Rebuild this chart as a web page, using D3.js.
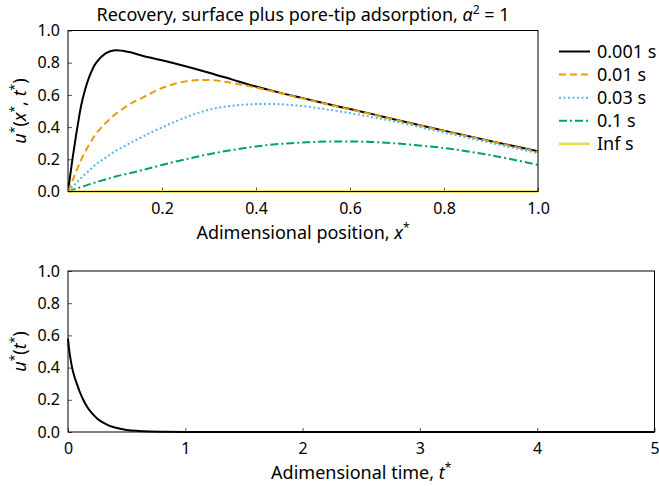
<!DOCTYPE html>
<html>
<head>
<meta charset="utf-8">
<script src="https://cdn.jsdelivr.net/npm/d3@7"></script>
<style>
  html, body { margin: 0; padding: 0; background: #fff; }
  svg { display: block; font-family: "Noto Sans", "Open Sans", sans-serif; }
</style>
</head>
<body>
<svg id="chart" width="659" height="486"></svg>
<script>
// Spatial profiles u*(x*, t*) at several times
const xPos = [0, 0.01, 0.02, 0.03, 0.045, 0.06, 0.08, 0.1, 0.13, 0.16, 0.2, 0.25, 0.3, 0.35, 0.4, 0.45, 0.5, 0.55, 0.6, 0.65, 0.7, 0.8, 0.9, 1.0];
const u0001 = [0, 0.21, 0.40, 0.56, 0.71, 0.80, 0.858, 0.877, 0.866, 0.842, 0.815, 0.778, 0.738, 0.695, 0.652, 0.614, 0.58, 0.545, 0.512, 0.479, 0.444, 0.378, 0.313, 0.25];
const u001  = [0, 0.07, 0.143, 0.21, 0.29, 0.36, 0.425, 0.478, 0.54, 0.585, 0.643, 0.684, 0.692, 0.674, 0.645, 0.612, 0.578, 0.543, 0.51, 0.477, 0.442, 0.376, 0.311, 0.246];
const u003  = [0, 0.03, 0.06, 0.09, 0.13, 0.17, 0.21, 0.25, 0.297, 0.342, 0.398, 0.46, 0.508, 0.533, 0.543, 0.542, 0.53, 0.51, 0.487, 0.46, 0.432, 0.366, 0.302, 0.238];
const u01   = [0, 0.01, 0.02, 0.029, 0.044, 0.058, 0.075, 0.092, 0.113, 0.134, 0.165, 0.2, 0.232, 0.258, 0.28, 0.295, 0.304, 0.31, 0.311, 0.307, 0.298, 0.27, 0.225, 0.165];
const uInf  = [0, 0, 0, 0, 0, 0, 0, 0, 0, 0, 0, 0, 0, 0, 0, 0, 0, 0, 0, 0, 0, 0, 0, 0];
const seriesLabels = ["0.001 s", "0.01 s", "0.03 s", "0.1 s", "Inf s"];

// Time history u*(t*)
const tTime = [0, 0.01, 0.02, 0.035, 0.05, 0.075, 0.1, 0.13, 0.16, 0.2, 0.25, 0.3, 0.35, 0.4, 0.5, 0.6, 0.7, 0.8, 1.0, 1.5, 2, 3, 4, 5];
const uTime = [0.58, 0.51, 0.46, 0.40, 0.355, 0.30, 0.25, 0.20, 0.16, 0.12, 0.083, 0.058, 0.040, 0.028, 0.013, 0.0065, 0.003, 0.0015, 0.0004, 0, 0, 0, 0, 0];

// Tick values
const xTicksTop = [0.2, 0.4, 0.6, 0.8, 1.0];
const yTicks = [0, 0.2, 0.4, 0.6, 0.8, 1.0];
const tTicks = [0, 1, 2, 3, 4, 5];

const svg = d3.select("#chart");
const FS = 18;      // titles, labels, legend
const TICK_FS = 16; // tick labels
const SUP = 12;

const styles = [
  { color: "#000000", dash: null },
  { color: "#E69F00", dash: "7,4" },
  { color: "#56B4E9", dash: "2,2.5" },
  { color: "#009E73", dash: "8,3,2,3" },
  { color: "#E8D84A", dash: null }
];
const seriesValues = [u0001, u001, u003, u01, uInf];

// Panel geometry
const pTop = { x0: 68, x1: 538, y0: 30.5, y1: 191.5 };
const pBot = { x0: 68, x1: 654.5, y0: 271, y1: 432 };

function frame(p) {
  svg.append("rect")
    .attr("x", p.x0).attr("y", p.y0)
    .attr("width", p.x1 - p.x0).attr("height", p.y1 - p.y0)
    .attr("fill", "none").attr("stroke", "#000").attr("stroke-width", 1);
}

function styleAxis(g) {
  g.select(".domain").remove();
  g.selectAll(".tick line").attr("stroke", "#555").attr("stroke-width", 1);
  g.selectAll(".tick text").attr("fill", "#000").style("font-size", TICK_FS + "px")
    .style("font-family", '"Noto Sans", sans-serif');
}

// Text with italic math symbols and superscripts: parts = [[text, kind]]
function richText(sel, parts) {
  parts.forEach(([txt, kind]) => {
    const ts = sel.append("tspan").text(txt);
    if (kind === "i") ts.style("font-style", "italic");
    if (kind === "sup") ts.attr("dy", -7).style("font-size", SUP + "px");
    if (kind === "after") ts.attr("dy", 7);
  });
}

// ---------- Top panel ----------
const xs = d3.scaleLinear().domain([0, 1]).range([pTop.x0, pTop.x1]);
const ys = d3.scaleLinear().domain([0, 1]).range([pTop.y1, pTop.y0]);

svg.append("g").attr("transform", `translate(0,${pTop.y1})`)
  .call(d3.axisBottom(xs).tickValues(xTicksTop).tickFormat(d3.format(".1f"))
    .tickSizeInner(-4).tickSizeOuter(0).tickPadding(11))
  .call(styleAxis);
svg.append("g").attr("transform", `translate(${pTop.x0},0)`)
  .call(d3.axisLeft(ys).tickValues(yTicks).tickFormat(d3.format(".1f"))
    .tickSizeInner(-4).tickSizeOuter(0).tickPadding(8))
  .call(styleAxis);

svg.append("clipPath").attr("id", "clipTop").append("rect")
  .attr("x", pTop.x0).attr("y", pTop.y0 - 2).attr("width", pTop.x1 - pTop.x0).attr("height", pTop.y1 - pTop.y0 + 4);

const lineTop = d3.line().x((d, i) => xs(xPos[i])).y(d => ys(d)).curve(d3.curveCatmullRom.alpha(0.5));
const gTop = svg.append("g").attr("clip-path", "url(#clipTop)");
seriesValues.forEach((vals, k) => {
  gTop.append("path").datum(vals)
    .attr("d", lineTop)
    .attr("fill", "none")
    .attr("stroke", styles[k].color)
    .attr("stroke-width", k === 4 ? 2.5 : 2)
    .attr("stroke-dasharray", styles[k].dash);
});
frame(pTop);

// Title
const title = svg.append("text").attr("x", (pTop.x0 + pTop.x1) / 2).attr("y", 21)
  .attr("text-anchor", "middle").style("font-size", FS + "px").attr("fill", "#000");
richText(title, [["Recovery, surface plus pore-tip adsorption, ", ""], ["α", "i"], ["2", "sup"], [" = 1", "after"]]);

// X label
const xl = svg.append("text").attr("x", (pTop.x0 + pTop.x1) / 2).attr("y", 239)
  .attr("text-anchor", "middle").style("font-size", FS + "px").attr("fill", "#000");
richText(xl, [["Adimensional position, ", ""], ["x", "i"], ["*", "sup"]]);

// Y label
const yl = svg.append("text")
  .attr("transform", `translate(26,${(pTop.y0 + pTop.y1) / 2}) rotate(-90)`)
  .attr("text-anchor", "middle").style("font-size", FS + "px").attr("fill", "#000");
richText(yl, [["u", "i"], ["*", "sup"], ["(", "after"], ["x", "i"], ["*", "sup"], [", ", "after"], ["t", "i"], ["*", "sup"], [")", "after"]]);

// Legend
const legend = svg.append("g");
seriesLabels.forEach((lab, k) => {
  const y = 51.5 + k * 23.1;
  legend.append("line").attr("x1", 559).attr("x2", 590).attr("y1", y).attr("y2", y)
    .attr("stroke", styles[k].color).attr("stroke-width", k === 4 ? 2.5 : 2)
    .attr("stroke-dasharray", styles[k].dash);
  legend.append("text").attr("x", 597).attr("y", y).attr("dy", "0.35em")
    .style("font-size", FS + "px").attr("fill", "#000").text(lab);
});

// ---------- Bottom panel ----------
const tsc = d3.scaleLinear().domain([0, 5]).range([pBot.x0, pBot.x1]);
const ys2 = d3.scaleLinear().domain([0, 1]).range([pBot.y1, pBot.y0]);

svg.append("g").attr("transform", `translate(0,${pBot.y1})`)
  .call(d3.axisBottom(tsc).tickValues(tTicks).tickFormat(d3.format("d"))
    .tickSizeInner(-4).tickSizeOuter(0).tickPadding(11))
  .call(styleAxis);
svg.append("g").attr("transform", `translate(${pBot.x0},0)`)
  .call(d3.axisLeft(ys2).tickValues(yTicks).tickFormat(d3.format(".1f"))
    .tickSizeInner(-4).tickSizeOuter(0).tickPadding(8))
  .call(styleAxis);

const lineBot = d3.line().x((d, i) => tsc(tTime[i])).y(d => ys2(d)).curve(d3.curveMonotoneX);
svg.append("path").datum(uTime)
  .attr("d", lineBot).attr("fill", "none").attr("stroke", "#000").attr("stroke-width", 2);
frame(pBot);

const xl2 = svg.append("text").attr("x", (pBot.x0 + pBot.x1) / 2).attr("y", 479)
  .attr("text-anchor", "middle").style("font-size", FS + "px").attr("fill", "#000");
richText(xl2, [["Adimensional time, ", ""], ["t", "i"], ["*", "sup"]]);

const yl2 = svg.append("text")
  .attr("transform", `translate(26,${(pBot.y0 + pBot.y1) / 2}) rotate(-90)`)
  .attr("text-anchor", "middle").style("font-size", FS + "px").attr("fill", "#000");
richText(yl2, [["u", "i"], ["*", "sup"], ["(", "after"], ["t", "i"], ["*", "sup"], [")", "after"]]);
</script>
</body>
</html>
